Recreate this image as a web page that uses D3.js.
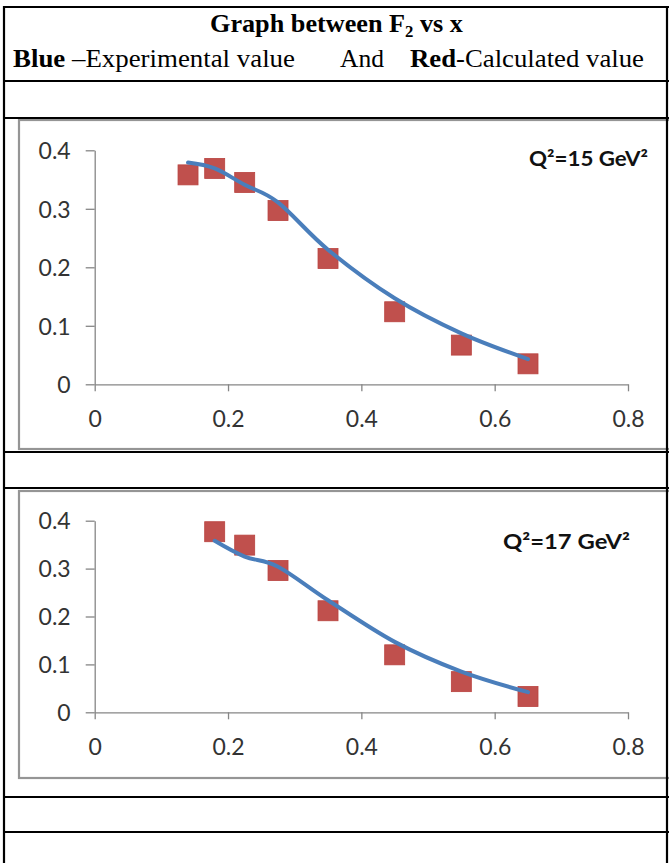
<!DOCTYPE html>
<html>
<head>
<meta charset="utf-8">
<script src="https://cdn.jsdelivr.net/npm/d3@7"></script>
<style>
  body { margin: 0; background: #fff; }
  svg { display: block; }
</style>
</head>
<body>
<div id="chart"></div>
<script>
// x values and F2 values
var xVals1 = [0.14, 0.18, 0.225, 0.275, 0.35, 0.45, 0.55, 0.65];
var calc1 = [0.358, 0.369, 0.345, 0.297, 0.215, 0.124, 0.067, 0.035];
var expt1 = [0.379, 0.369, 0.341, 0.311, 0.23, 0.147, 0.087, 0.043];

var xVals2 = [0.18, 0.225, 0.275, 0.35, 0.45, 0.55, 0.65];
var calc2 = [0.377, 0.349, 0.296, 0.212, 0.12, 0.064, 0.033];
var expt2 = [0.358, 0.325, 0.304, 0.234, 0.147, 0.085, 0.042];

var xTicks = [0, 0.2, 0.4, 0.6, 0.8];
var xTickLabels = ["0", "0.2", "0.4", "0.6", "0.8"];
var yTicks = [0, 0.1, 0.2, 0.3, 0.4];
var yTickLabels = ["0", "0.1", "0.2", "0.3", "0.4"];

var panelLabels = ["Q\u00b2=15 GeV\u00b2", "Q\u00b2=17 GeV\u00b2"];

var W = 669, H = 863;

var svg = d3.select("#chart").append("svg")
	.attr("width", W)
	.attr("height", H);

// header text
svg.append("text")
	.attr("x", 210).attr("y", 32)
	.attr("textLength", 253).attr("lengthAdjust", "spacingAndGlyphs")
	.style("font-family", "'Liberation Serif', 'Times New Roman', serif")
	.style("font-weight", "bold").style("font-size", "25px")
	.text("Graph between F")
	.append("tspan").attr("dy", 5).style("font-size", "16px").text("2")
	.select(function(){ return this.parentNode; })
	.append("tspan").attr("dy", -5).text(" vs x");

var line2 = [
	{x: 13, w: 282, parts: [["Blue", true], [" \u2013Experimental value", false]]},
	{x: 340, w: 44, parts: [["And", false]]},
	{x: 410, w: 234, parts: [["Red", true], ["-Calculated value", false]]}
];
line2.forEach(function(d){
	var t = svg.append("text")
		.attr("x", d.x).attr("y", 67)
		.attr("textLength", d.w).attr("lengthAdjust", "spacingAndGlyphs")
		.style("font-family", "'Liberation Serif', 'Times New Roman', serif")
		.style("font-size", "25px");
	d.parts.forEach(function(p){
		t.append("tspan").style("font-weight", p[1] ? "bold" : "normal").text(p[0]);
	});
});

// one panel
function drawPanel(top, bottom, yZero, yTop, xs, calc, expt, label, labelBox){
	svg.append("rect")
		.attr("x", 19).attr("y", top)
		.attr("width", 660).attr("height", bottom - top)
		.style("fill", "none")
		.style("stroke", "#959595")
		.style("stroke-width", 2.2);

	var x = d3.scaleLinear().domain([0, 0.8]).range([94.7, 628]);
	var y = d3.scaleLinear().domain([0, 0.4]).range([yZero, yTop]);

	var xAxis = d3.axisBottom(x).tickValues(xTicks).tickSize(7).tickSizeOuter(0)
		.tickFormat(function(d, i){ return xTickLabels[i]; });
	var yAxis = d3.axisLeft(y).tickValues(yTicks).tickSize(9).tickSizeOuter(0)
		.tickFormat(function(d, i){ return yTickLabels[i]; });

	var gx = svg.append("g")
		.attr("transform", "translate(0," + yZero + ")")
		.call(xAxis);
	var gy = svg.append("g")
		.attr("transform", "translate(94.7,0)")
		.call(yAxis);

	[gx, gy].forEach(function(g){
		g.select(".domain").style("stroke", "#868686").style("stroke-width", 1.3);
		g.selectAll(".tick line").style("stroke", "#868686").style("stroke-width", 1.3);
		g.selectAll(".tick text")
			.style("font-family", "Lato, 'Open Sans', sans-serif")
			.style("font-size", "23px")
			.style("fill", "#333");
	});
	gx.selectAll(".tick text").attr("y", 34).attr("dy", "0.36em");
	gy.selectAll(".tick text").attr("x", -24).attr("dy", "0.36em");

	var line = d3.line()
		.x(function(d){ return x(d[0]); })
		.y(function(d){ return y(d[1]); })
		.curve(d3.curveCardinal);

	var pts = xs.map(function(v, i){ return [v, calc[i]]; });
	var lpts = xs.map(function(v, i){ return [v, expt[i]]; });

	var s = 20;
	svg.append("g").selectAll("rect")
		.data(pts).enter()
		.append("rect")
		.attr("x", function(d){ return x(d[0]) - s/2; })
		.attr("y", function(d){ return y(d[1]) - s/2; })
		.attr("width", s).attr("height", s)
		.style("fill", "#c0504d")
		.style("stroke", "#b9433f")
		.style("stroke-width", 0.8);

	svg.append("path")
		.datum(lpts)
		.attr("d", line)
		.style("fill", "none")
		.style("stroke", "#4a7ebb")
		.style("stroke-width", 4)
		.style("stroke-linecap", "round");

	svg.append("text")
		.attr("x", labelBox[0]).attr("y", labelBox[1])
		.attr("textLength", labelBox[2]).attr("lengthAdjust", "spacingAndGlyphs")
		.style("font-family", "Lato, 'Open Sans', sans-serif")
		.style("font-weight", "bold")
		.style("font-size", labelBox[3] + "px")
		.style("fill", "#111")
		.text(label);
}

drawPanel(120, 449, 384.3, 150.3, xVals1, calc1, expt1, panelLabels[0], [529, 166, 119, 21]);
drawPanel(491, 778, 712.3, 520.7, xVals2, calc2, expt2, panelLabels[1], [503, 549, 127, 20]);

// table rules
var hLines = [7, 81, 118, 452, 488, 797, 832];
svg.append("g").selectAll("line")
	.data(hLines).enter()
	.append("line")
	.attr("x1", 3).attr("x2", 669)
	.attr("y1", function(d){ return d; })
	.attr("y2", function(d){ return d; })
	.style("stroke", "#000")
	.style("stroke-width", 2.2);

svg.append("g").selectAll("line")
	.data([4, 667]).enter()
	.append("line")
	.attr("x1", function(d){ return d; })
	.attr("x2", function(d){ return d; })
	.attr("y1", 6).attr("y2", H)
	.style("stroke", "#000")
	.style("stroke-width", 2.2);
</script>
</body>
</html>
